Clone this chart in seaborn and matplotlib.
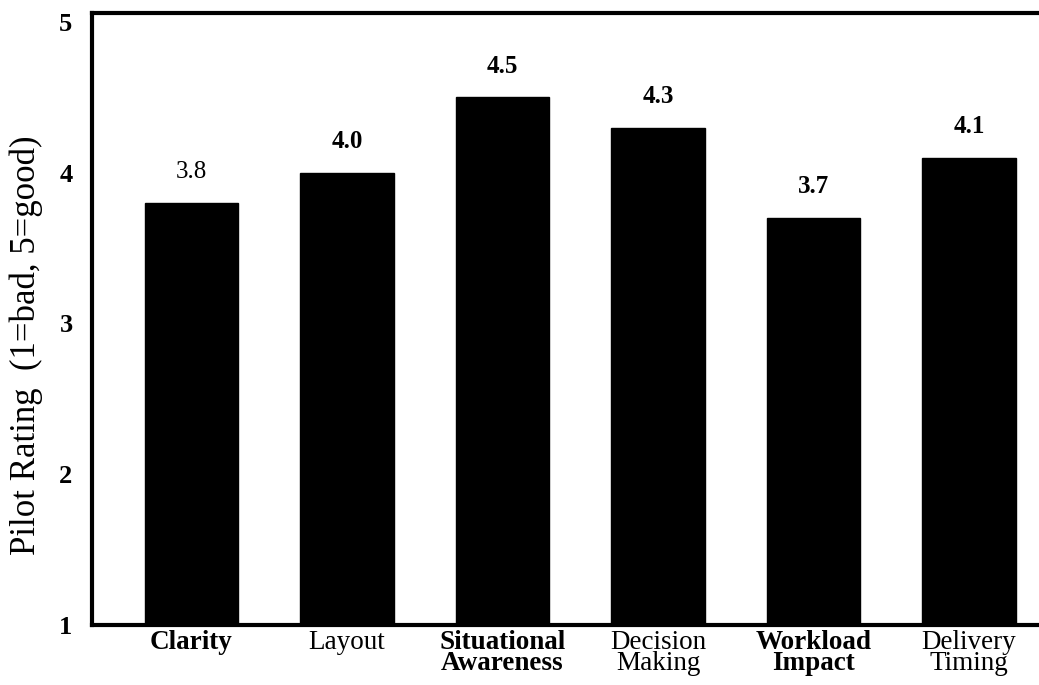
import matplotlib
matplotlib.use("Agg")
import matplotlib.pyplot as plt
import pandas as pd
import seaborn as sns

categories = ["Clarity", "Layout", "Situational\nAwareness", "Decision\nMaking",
              "Workload\nImpact", "Delivery\nTiming"]
ratings = [3.8, 4.0, 4.5, 4.3, 3.7, 4.1]
value_labels = ["3.8", "4.0", "4.5", "4.3", "3.7", "4.1"]
bold_categories = [True, False, True, False, True, False]
bold_values = [False, True, True, True, True, True]
yticks = [1, 2, 3, 4, 5]

sns.set_theme(style="white")
plt.rcParams["font.family"] = ["Liberation Serif", "DejaVu Serif"]
plt.rcParams["text.color"] = "black"
plt.rcParams["axes.labelcolor"] = "black"
plt.rcParams["xtick.color"] = "black"
plt.rcParams["ytick.color"] = "black"

df = pd.DataFrame({"Category": categories, "Rating": ratings})

fig = plt.figure(figsize=(10.39, 6.85), dpi=100)
ax = fig.add_axes([0.0885, 0.088, 0.9115, 0.893])

sns.barplot(data=df, x="Category", y="Rating", color="black", width=0.6,
            saturation=1, ax=ax)
for patch in ax.patches:
    patch.set_edgecolor("black")

ax.set_ylim(1, 5.06)
ax.set_xlim(-0.64, 5.45)
ax.set_yticks(yticks)
ax.set_yticklabels([str(t) for t in yticks], fontsize=19, fontweight="bold")

ax.set_xticks(range(len(categories)))
ax.set_xticklabels(categories, fontsize=19.5, linespacing=0.8)
for lbl, b in zip(ax.get_xticklabels(), bold_categories):
    lbl.set_fontweight("bold" if b else "normal")
ax.tick_params(axis="x", length=0, pad=4)
ax.tick_params(axis="y", length=0, pad=14)

ax.set_xlabel("")
ax.set_ylabel("Pilot Rating  (1=bad, 5=good)", fontsize=25)
ax.yaxis.set_label_coords(-0.052, 0.457)

for i, (v, txt, b) in enumerate(zip(ratings, value_labels, bold_values)):
    ax.annotate(txt, (i, v), xytext=(0, 14), textcoords="offset points",
                ha="center", va="bottom", fontsize=18,
                fontweight="bold" if b else "normal")

for side in ["left", "top", "bottom"]:
    ax.spines[side].set_linewidth(3)
    ax.spines[side].set_color("black")
ax.spines["right"].set_visible(False)

fig.savefig("out.png", dpi=100)
